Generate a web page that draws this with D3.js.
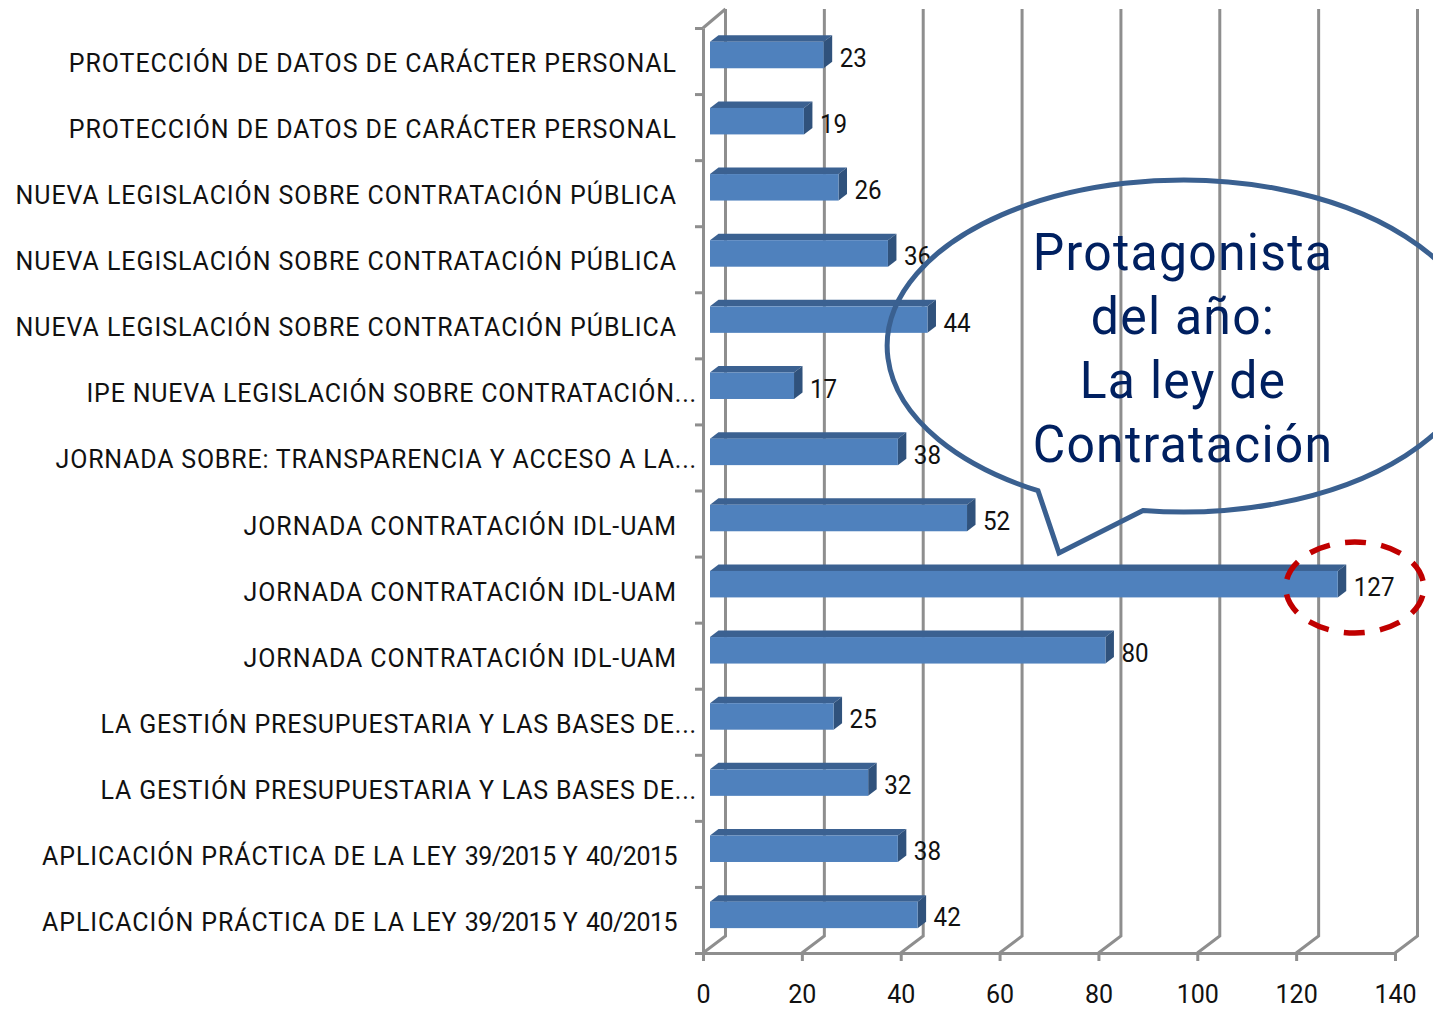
<!DOCTYPE html>
<html>
<head>
<meta charset="utf-8">
<script src="https://cdn.jsdelivr.net/npm/d3@7"></script>
<style>
    html, body { margin: 0; padding: 0; background: #fff; }
    svg { display: block; }
    text { font-family: Roboto, sans-serif; fill: #111; }
</style>
</head>
<body>
<div id="chart"></div>
<script>
// Chart data, top to bottom
const courses = [
    'PROTECCIÓN DE DATOS DE CARÁCTER PERSONAL',
    'PROTECCIÓN DE DATOS DE CARÁCTER PERSONAL',
    'NUEVA LEGISLACIÓN SOBRE CONTRATACIÓN PÚBLICA',
    'NUEVA LEGISLACIÓN SOBRE CONTRATACIÓN PÚBLICA',
    'NUEVA LEGISLACIÓN SOBRE CONTRATACIÓN PÚBLICA',
    'IPE NUEVA LEGISLACIÓN SOBRE CONTRATACIÓN...',
    'JORNADA SOBRE: TRANSPARENCIA Y ACCESO A LA...',
    'JORNADA CONTRATACIÓN IDL-UAM',
    'JORNADA CONTRATACIÓN IDL-UAM',
    'JORNADA CONTRATACIÓN IDL-UAM',
    'LA GESTIÓN PRESUPUESTARIA Y LAS BASES DE...',
    'LA GESTIÓN PRESUPUESTARIA Y LAS BASES DE...',
    'APLICACIÓN PRÁCTICA DE LA LEY 39/2015 Y 40/2015',
    'APLICACIÓN PRÁCTICA DE LA LEY 39/2015 Y 40/2015'
];
const attendees = [23, 19, 26, 36, 44, 17, 38, 52, 127, 80, 25, 32, 38, 42];
const xTicks = [0, 20, 40, 60, 80, 100, 120, 140];
const calloutLines = ['Protagonista', 'del año:', 'La ley de', 'Contratación'];

const width = 1433;
const height = 1010;

// Plot box and the fake 3D offset of the back wall
const plot = { left: 703, right: 1395, top: 28, bottom: 953 };
const depth = { x: 22.5, y: -17 };
const gridColor = '#8e8e8e';
const labelSize = 26;

const svg = d3.select('#chart')
    .append('svg')
    .attr('width', width)
    .attr('height', height);

const x = d3.scaleLinear().domain([0, 140]).range([plot.left, plot.right]);
const y = d3.scaleBand().domain(d3.range(courses.length)).range([plot.top, plot.bottom + 1]);
const yEdge = d3.scaleLinear().domain([0, courses.length]).range([plot.top, plot.bottom]);

// Back wall gridlines with the diagonal down to the floor
svg.append('g')
    .selectAll('path')
    .data(xTicks)
    .enter()
    .append('path')
    .attr('d', d => `M${x(d) + depth.x},${plot.top + depth.y - 2}V${plot.bottom + depth.y}L${x(d)},${plot.bottom}`)
    .attr('fill', 'none')
    .attr('stroke', gridColor)
    .attr('stroke-width', 3);

// Left wall top edge
svg.append('path')
    .attr('d', `M${plot.left},${plot.top}L${plot.left + depth.x},${plot.top + depth.y - 2}`)
    .attr('fill', 'none')
    .attr('stroke', gridColor)
    .attr('stroke-width', 3);

// Axes
const xAxis = svg.append('g')
    .attr('transform', `translate(0,${plot.bottom})`)
    .call(d3.axisBottom(x).tickValues(xTicks).tickSize(8).tickSizeOuter(0).tickPadding(24));

const yAxis = svg.append('g')
    .attr('transform', `translate(${plot.left},0)`)
    .call(d3.axisLeft(yEdge).tickValues(d3.range(courses.length + 1)).tickSize(8).tickSizeOuter(0).tickFormat(''));

[xAxis, yAxis].forEach(axis => {
    axis.select('.domain').attr('stroke', gridColor).attr('stroke-width', 3);
    axis.selectAll('.tick line').attr('stroke', gridColor).attr('stroke-width', 3);
});

xAxis.selectAll('.tick text')
    .attr('font-size', 25)
    .style('font-family', 'Roboto, sans-serif')
    .style('fill', '#111');

// Bars: front, top and side faces
const barStart = 7;
const barHeight = 26.5;
const barLift = 19.3;
const face = { x: 8.5, y: 6.5 };

const bars = svg.append('g')
    .selectAll('g')
    .data(attendees)
    .enter()
    .append('g')
    .attr('transform', (d, i) => `translate(0,${y(i) + y.bandwidth() / 2 - barLift})`);

bars.append('path')
    .attr('fill', '#3b6191')
    .attr('d', d => {
        const x0 = x(0) + barStart;
        const x1 = x(d) + barStart;
        return `M${x0},0L${x0 + face.x},${-face.y}H${x1 + face.x}L${x1},0Z`;
    });

bars.append('path')
    .attr('fill', '#30527c')
    .attr('d', d => {
        const x1 = x(d) + barStart;
        return `M${x1},0L${x1 + face.x},${-face.y}V${barHeight - face.y}L${x1},${barHeight}Z`;
    });

bars.append('rect')
    .attr('x', x(0) + barStart)
    .attr('y', 0)
    .attr('width', d => x(d) - x(0))
    .attr('height', barHeight)
    .attr('fill', '#4f81bd');

// Value labels next to each bar
svg.append('g')
    .selectAll('text')
    .data(attendees)
    .enter()
    .append('text')
    .attr('transform', (d, i) => `translate(${x(d) + barStart + face.x + 7.5},${yEdge(i + 0.5) + 6.2}) scale(0.93,1)`)
    .attr('font-size', labelSize)
    .text(d => d);

// Course names, the cut ones run closer to the axis
const courseLabels = svg.append('g')
    .selectAll('text')
    .data(courses)
    .enter()
    .append('text')
    .attr('transform', (d, i) => {
        const right = d.endsWith('...') ? 697 : 677;
        return `translate(${right},${yEdge(i + 0.5) + 11}) scale(0.96,1)`;
    })
    .attr('text-anchor', 'end')
    .attr('font-size', labelSize)
    .style('letter-spacing', d => d.endsWith('...') ? '0.85px' : '1px');

// The reference font sets numbers tighter than Roboto, so number runs get their own spacing
courseLabels.selectAll('tspan')
    .data(d => d.split(/([\d/]+)/).filter(part => part.length > 0))
    .enter()
    .append('tspan')
    .style('letter-spacing', d => /\d/.test(d) ? '-0.5px' : null)
    .text(d => d);

// Red dashed ring around the top value
const peak = attendees.indexOf(d3.max(attendees));
svg.append('ellipse')
    .attr('cx', x(attendees[peak]) + 24)
    .attr('cy', y(peak) + y.bandwidth() / 2 - 2.7)
    .attr('rx', 69)
    .attr('ry', 45.5)
    .attr('fill', 'none')
    .attr('stroke', '#c00000')
    .attr('stroke-width', 5.5)
    .attr('stroke-dasharray', '21 15.35')
    .attr('stroke-dashoffset', -8);

// Speech bubble, no fill so the chart shows through
const bubble = { cx: 1183, cy: 346, rx: 296, ry: 166 };
svg.append('path')
    .attr('d', `M1143,510.5A${bubble.rx},${bubble.ry} 0 1 0 1038,490.7L1059,553Z`)
    .attr('fill', 'none')
    .attr('stroke', '#3a6090')
    .attr('stroke-width', 5)
    .attr('stroke-linejoin', 'miter');

svg.append('g')
    .selectAll('text')
    .data(calloutLines)
    .enter()
    .append('text')
    .attr('transform', (d, i) => `translate(${bubble.cx},${270 + i * 64}) scale(0.96,1)`)
    .attr('text-anchor', 'middle')
    .attr('font-size', 52)
    .style('letter-spacing', '1.3px')
    .style('fill', '#002060')
    .text(d => d);
</script>
</body>
</html>
